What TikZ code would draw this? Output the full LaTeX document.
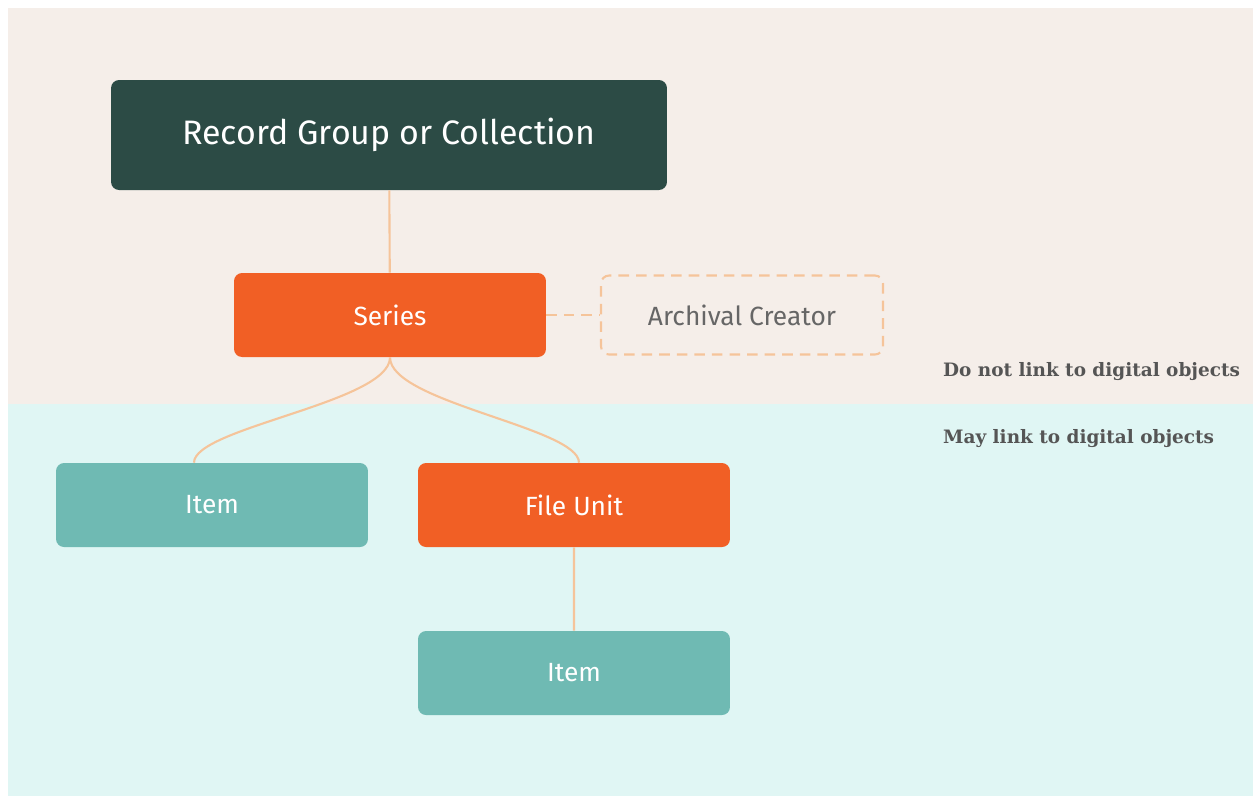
\documentclass[tikz,border=0pt]{standalone}
\usepackage{fontspec}
\setmainfont{Fira Sans}
\newfontfamily\notefont{DejaVu Serif}
\definecolor{paper}{HTML}{F5EEE9}
\definecolor{aqua}{HTML}{E0F6F4}
\definecolor{pine}{HTML}{2C4B45}
\definecolor{ember}{HTML}{F15F25}
\definecolor{teal}{HTML}{6FBAB3}
\definecolor{peach}{HTML}{F5C49A}
\definecolor{ash}{HTML}{666666}
\definecolor{slate}{HTML}{555555}
\begin{document}
\begin{tikzpicture}[x=0.02cm, y=-0.02cm,
    box/.style={rounded corners=0.16cm, text=white, minimum width=6.24cm,
                minimum height=1.68cm, font=\fontsize{15}{18}\selectfont},
    level/.style={box, fill=ember},
    leaf/.style={box, fill=teal},
    link/.style={draw=peach, line width=1.2pt},
    dashlink/.style={link, dash pattern=on 6pt off 4pt},
    note/.style={anchor=west, text=slate, font=\notefont\bfseries\fontsize{10.5}{12}\selectfont}]
    \useasboundingbox (0,0) rectangle (1253,796);
    \fill[paper] (8,8) rectangle (1253,404);
    \fill[aqua] (8,404) rectangle (1253,796);

    \node[box, fill=pine, minimum width=11.12cm, minimum height=2.2cm,
          font=\fontsize{19.3}{22}\selectfont] at (389, 135) (RG) {Record Group or Collection};
    \node[level] at (390, 315) (S) {Series};
    \node[rounded corners=0.16cm, dashlink, text=ash,
          minimum width=5.64cm, minimum height=1.58cm,
          font=\fontsize{15}{18}\selectfont] at (742, 315) (AC) {Archival Creator};
    \node[leaf] at (212, 505) (I1) {Item};
    \node[level] at (574, 505) (FU) {File Unit};
    \node[leaf] at (574, 673) (I2) {Item};

    \node[note] at (937, 372) (no) {Do not link to digital objects};
    \node[note] at (937, 439) (may) {May link to digital objects};

    \path[link]
        (RG) -- (S)
        (FU) -- (I2)
        (S.south) .. controls +(0,45) and +(0,-35) .. ([xshift=-0.36cm]I1.north)
        (S.south) .. controls +(0,45) and +(0,-35) .. ([xshift=0.1cm]FU.north);
    \path[dashlink] (S) -- (AC);
\end{tikzpicture}
\end{document}
